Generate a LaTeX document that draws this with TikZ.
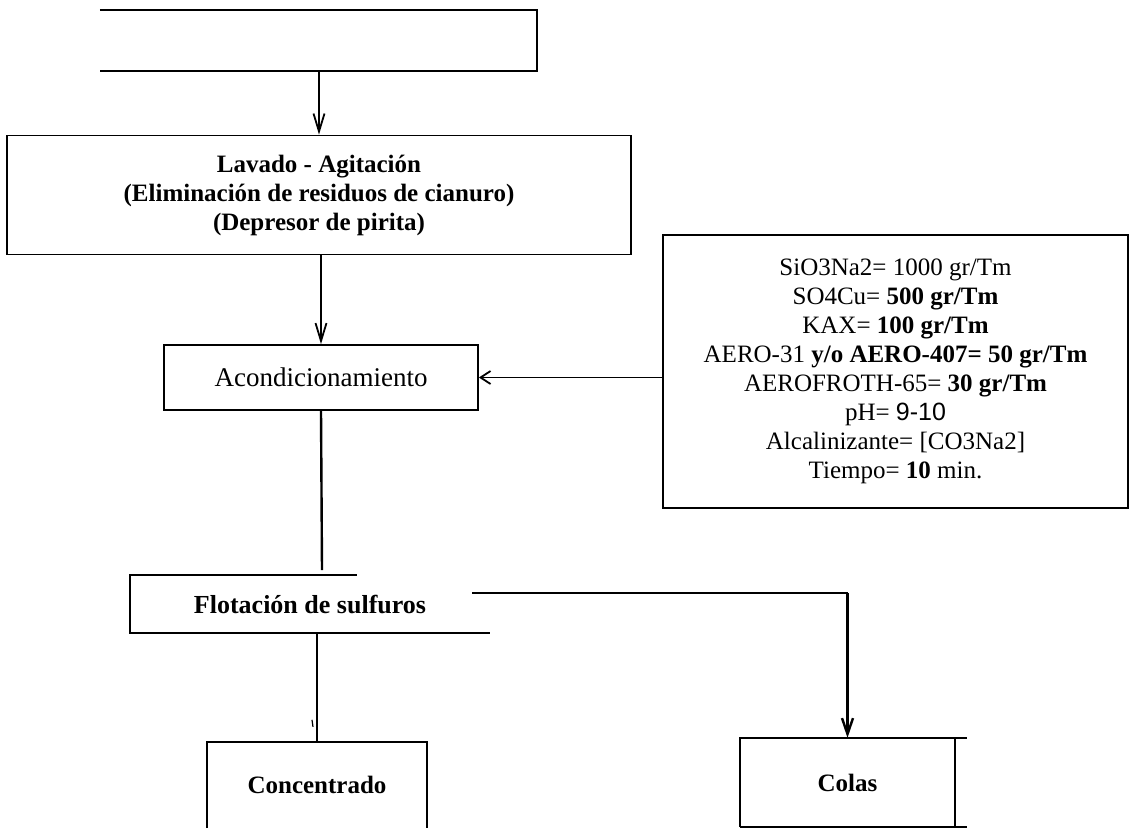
\documentclass[tikz,border=0pt]{standalone}
\usepackage{fontspec}
\setmainfont{Liberation Serif}
\newfontfamily\sansfont{Liberation Sans}
\usetikzlibrary{arrows.meta,positioning}

\tikzset{
  marco/.style={line width=1.8pt},
  grueso/.style={line width=2.4pt},
  texto/.style={inner sep=0pt, align=center, font=\fontsize{25}{29}\selectfont},
  caja/.style={texto, draw, marco},
  flecha/.style={marco, -{Straight Barb[length=18pt,width=11pt]}},
}

\begin{document}
\begin{tikzpicture}[x=1pt,y=-1pt]
\useasboundingbox (0,0) rectangle (1132,828);

% open boxes are drawn side by side below
\node[texto, minimum width=437pt, minimum height=61pt] (entrada) at (318.5,40.5) {};
\node[caja, minimum width=624pt, minimum height=119pt] (lavado) at (319,195)
  {\bfseries Lavado - Agitación\\ \bfseries (Eliminación de residuos de cianuro)\\ \bfseries (Depresor de pirita)};
\node[caja, minimum width=314pt, minimum height=65pt, font=\fontsize{27}{29}\selectfont] (acond) at (321,377.5) {Acondicionamiento};
\node[caja, minimum width=465pt, minimum height=273pt] (reactivos) at (895.5,371.5)
  {SiO3Na2= 1000 gr/Tm\\
   SO4Cu= \textbf{500 gr/Tm}\\
   KAX= \textbf{100 gr/Tm}\\
   AERO-31 \textbf{y/o AERO-407= 50 gr/Tm}\\
   AEROFROTH-65= \textbf{30 gr/Tm}\\
   pH= {\sansfont 9-10}\\
   Alcalinizante= [CO3Na2]\\
   Tiempo= \textbf{10} min.};
\node[texto, minimum width=360pt, minimum height=58pt, font=\fontsize{26}{29}\selectfont] (flot) at (310,604) {\bfseries Flotación de sulfuros};
\node[texto, minimum width=220pt, minimum height=86pt] (conc) at (317,785) {\bfseries Concentrado};
\node[texto, minimum width=215pt, minimum height=89pt] (colas) at (847.5,782.5) {\bfseries Colas};
\coordinate (acondFin) at (322,570);
\coordinate (colasIni) at (472,593);

% sides of the open boxes
\draw[marco] (entrada.north west) -| (entrada.south east) -- (entrada.south west);
\draw[marco] (flot.north west) ++(227,0) -- (flot.north west) -- (flot.south west) -- (flot.south east);
\draw[marco] (conc.south west) -- (conc.north west) -- (conc.north east) -- (conc.south east);
\draw[marco] (colas.south west) -- (colas.north west) -- ([xshift=12pt]colas.north east);
\draw[marco] (colas.south west) -- ([xshift=12pt]colas.south east);
\draw[marco] (colas.north east) -- (colas.south east);

\draw[flecha] (lavado.north |- entrada.south) -- (lavado.north);
\draw[flecha] (acond.north |- lavado.south) -- (acond.north);
\draw[marco, -{Straight Barb[length=10pt,width=13pt]}] (acond.east -| reactivos.west) -- (acond.east);
\draw[grueso] (acond.south) -- (acondFin);
\draw[grueso] (conc.north |- flot.south) -- (conc.north);
\draw[line width=1.2pt] (conc.north) ++(-5,-22) -- ++(1,7);
\draw[marco] (colasIni) -| ([yshift=2pt]colas.north);
\draw[grueso, -{Straight Barb[length=16pt,width=11pt]}] (colasIni -| colas.north) -- (colas.north);
\end{tikzpicture}
\end{document}
